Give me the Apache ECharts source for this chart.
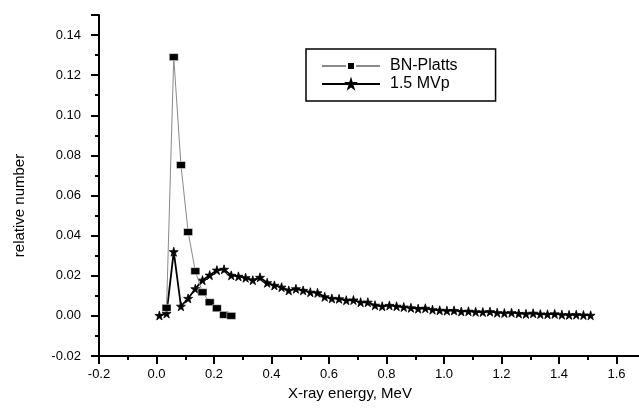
<!DOCTYPE html>
<html>
<head>
<meta charset="utf-8">
<script src="https://cdn.jsdelivr.net/npm/echarts@6/dist/echarts.min.js"></script>
<style>
  html, body { margin: 0; padding: 0; background: #fff; overflow: hidden; }
  /* a bit wider than the window: the x axis runs off the right edge, as in the original */
  #chart-container { width: 675px; height: 410px; }
</style>
</head>
<body>
<div id="chart-container"></div>
<script>
// BN-Platts spectrum (squares)
var energyPlatts = [0.035, 0.06, 0.085, 0.11, 0.135, 0.16, 0.185, 0.21, 0.235, 0.26];
var countsPlatts = [0.004, 0.129, 0.0752, 0.0418, 0.0223, 0.0118, 0.0068, 0.0038, 0.0005, 0.0];

// 1.5 MVp spectrum (stars)
var energyMVp = [0.01, 0.035, 0.06, 0.085, 0.11, 0.135, 0.16, 0.185, 0.21, 0.235, 0.26,
  0.285, 0.31, 0.335, 0.36, 0.385, 0.41, 0.435, 0.46, 0.485, 0.51, 0.535, 0.56, 0.585,
  0.61, 0.635, 0.66, 0.685, 0.71, 0.735, 0.76, 0.785, 0.81, 0.835,
  0.86, 0.885, 0.91, 0.935, 0.96, 0.985, 1.01, 1.035, 1.06, 1.085, 1.11, 1.135, 1.16,
  1.185, 1.21, 1.235, 1.26, 1.285, 1.31, 1.335, 1.36, 1.385, 1.41, 1.435, 1.46, 1.485, 1.51];
var countsMVp = [0.0002, 0.0012, 0.032, 0.0048, 0.0087, 0.0135, 0.0178, 0.0203, 0.0228, 0.0232, 0.0202,
  0.0197, 0.019, 0.0178, 0.0192, 0.0165, 0.0152, 0.0143, 0.0127, 0.0135, 0.0127, 0.0118, 0.0115, 0.0095,
  0.0087, 0.0085, 0.0078, 0.0079, 0.0068, 0.0068, 0.0053, 0.0048, 0.0052, 0.0048,
  0.0044, 0.0040, 0.0036, 0.0038, 0.0031, 0.0028, 0.0026, 0.0027, 0.0022, 0.0023, 0.0020, 0.0019, 0.0021,
  0.0016, 0.0014, 0.0016, 0.0012, 0.0010, 0.0013, 0.0009, 0.0008, 0.0010, 0.0006, 0.0005, 0.0006, 0.0004, 0.0003];

var seriesNames = ['BN-Platts', '1.5 MVp'];
var xAxisName = 'X-ray energy, MeV';
var yAxisName = 'relative number';

function zip(xs, ys) {
  return xs.map(function (x, i) { return [x, ys[i]]; });
}

var starPath = 'path://M50,0 L61,35 L98,35 L68,57 L79,91 L50,70 L21,91 L32,57 L2,35 L39,35 Z';
var font = 'Liberation Sans, Arial, Helvetica, sans-serif';

var dom = document.getElementById('chart-container');
var myChart = echarts.init(dom, null, { renderer: 'canvas' });

var option = {
  animation: false,
  backgroundColor: '#fff',
  textStyle: { fontFamily: font, color: '#000' },
  grid: { left: 99, right: 1, top: 15, bottom: 54 },
  legend: {
    orient: 'vertical',
    left: 306,
    top: 49,
    data: seriesNames,
    borderColor: '#000',
    borderWidth: 1.5,
    padding: [9, 38, 9, 15],
    itemGap: 2,
    itemWidth: 58,
    itemHeight: 10,
    textStyle: { fontSize: 16, color: '#000', fontFamily: font, lineHeight: 15, padding: [0, 0, 0, 5] }
  },
  xAxis: {
    type: 'value',
    min: -0.2,
    max: 1.8,
    interval: 0.2,
    name: xAxisName,
    nameLocation: 'middle',
    nameGap: 30,
    // centre the title on the visible part of the axis
    nameTextStyle: { fontSize: 15, color: '#000', padding: [0, 73, 0, 0] },
    axisLine: { onZero: false, lineStyle: { color: '#000', width: 2 } },
    axisTick: { inside: false, length: 8, lineStyle: { color: '#000', width: 2 } },
    minorTick: { show: true, splitNumber: 2, length: 4, lineStyle: { color: '#000', width: 2 } },
    splitLine: { show: false },
    axisLabel: {
      margin: 12, fontSize: 13, color: '#000', showMaxLabel: false,
      formatter: function (v) { return v.toFixed(1); }
    }
  },
  yAxis: {
    type: 'value',
    min: -0.02,
    max: 0.15,
    interval: 0.02,
    name: yAxisName,
    nameLocation: 'middle',
    nameGap: 72,
    nameTextStyle: { fontSize: 15, color: '#000', padding: [0, 40, 0, 0] },
    axisLine: { onZero: false, lineStyle: { color: '#000', width: 2 } },
    axisTick: { inside: false, length: 8, lineStyle: { color: '#000', width: 2 } },
    minorTick: { show: true, splitNumber: 2, length: 4, lineStyle: { color: '#000', width: 2 } },
    splitLine: { show: false },
    axisLabel: {
      margin: 18, fontSize: 13, color: '#000', showMaxLabel: false,
      formatter: function (v) { return v.toFixed(2); }
    }
  },
  series: [
    {
      name: seriesNames[1],
      type: 'line',
      data: zip(energyMVp, countsMVp),
      symbol: starPath,
      symbolSize: 9,
      showAllSymbol: true,
      lineStyle: { color: '#000', width: 1.8 },
      itemStyle: { color: '#000', borderColor: '#000', borderWidth: 0.8 },
      z: 2
    },
    {
      name: seriesNames[0],
      type: 'line',
      data: zip(energyPlatts, countsPlatts),
      symbol: 'rect',
      symbolSize: [9, 7],
      showAllSymbol: true,
      lineStyle: { color: '#8a8a8a', width: 1 },
      itemStyle: { color: '#000', borderColor: '#fff', borderWidth: 0.5 },
      z: 3
    }
  ]
};

myChart.setOption(option);
window.addEventListener('resize', myChart.resize);
</script>
</body>
</html>
